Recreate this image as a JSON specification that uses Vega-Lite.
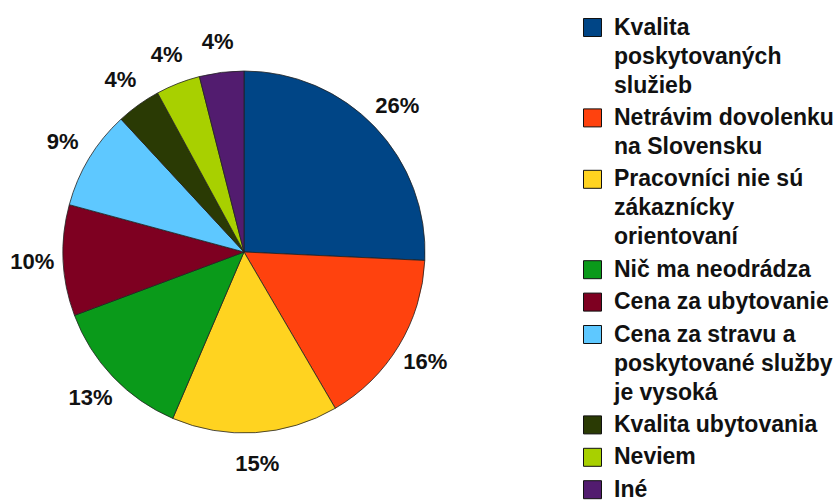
{
  "$schema": "https://vega.github.io/schema/vega-lite/v6.json",
  "width": 488,
  "height": 496,
  "padding": {"left": 0, "top": 4, "right": 0, "bottom": 0},
  "background": "white",
  "config": {"view": {"stroke": null}, "font": "Liberation Sans"},
  "data": {
    "values": [
      {"k": 1, "cat": "Kvalita\nposkytovaných\nslužieb", "pct": 26, "lbl": "26%"},
      {"k": 2, "cat": "Netrávim dovolenku\nna Slovensku", "pct": 16, "lbl": "16%"},
      {"k": 3, "cat": "Pracovníci nie sú\nzákaznícky\norientovaní", "pct": 15, "lbl": "15%"},
      {"k": 4, "cat": "Nič ma neodrádza", "pct": 13, "lbl": "13%"},
      {"k": 5, "cat": "Cena za ubytovanie", "pct": 10, "lbl": "10%"},
      {"k": 6, "cat": "Cena za stravu a\nposkytované služby\nje vysoká", "pct": 9, "lbl": "9%"},
      {"k": 7, "cat": "Kvalita ubytovania", "pct": 4, "lbl": "4%"},
      {"k": 8, "cat": "Neviem", "pct": 4, "lbl": "4%"},
      {"k": 9, "cat": "Iné", "pct": 4, "lbl": "4%"}
    ]
  },
  "encoding": {
    "theta": {"field": "pct", "type": "quantitative", "stack": true},
    "order": {"field": "k", "type": "quantitative"},
    "color": {
      "field": "cat",
      "type": "nominal",
      "scale": {
        "domain": ["Kvalita\nposkytovaných\nslužieb", "Netrávim dovolenku\nna Slovensku", "Pracovníci nie sú\nzákaznícky\norientovaní", "Nič ma neodrádza", "Cena za ubytovanie", "Cena za stravu a\nposkytované služby\nje vysoká", "Kvalita ubytovania", "Neviem", "Iné"],
        "range": ["#004586", "#ff420e", "#ffd320", "#0a9a1a", "#7e0021", "#5ec8ff", "#2a3a04", "#a8d000", "#521c6f"]
      },
      "legend": {
        "title": null,
        "orient": "none",
        "legendX": 581,
        "legendY": 12,
        "symbolType": "square",
        "symbolSize": 324,
        "symbolStrokeColor": "#111111",
        "symbolStrokeWidth": 1,
        "labelFont": "Liberation Sans",
        "labelFontWeight": "bold",
        "labelFontSize": 23,
        "labelColor": "#111111",
        "labelLimit": 400,
        "labelOffset": 10,
        "rowPadding": 8.4,
        "labelExpr": "split(datum.label, '\\n')",
        "encode": {"labels": {"update": {"lineHeight": {"value": 29}}}}
      }
    }
  },
  "layer": [
    {
      "mark": {"type": "arc", "outerRadius": 181, "stroke": "#222222", "strokeWidth": 0.8}
    },
    {
      "mark": {"type": "text", "radius": 212, "font": "Liberation Sans", "fontWeight": "bold", "fontSize": 22, "color": "#111111"},
      "encoding": {"text": {"field": "lbl", "type": "nominal"}, "color": {"value": "#111111"}}
    }
  ]
}
